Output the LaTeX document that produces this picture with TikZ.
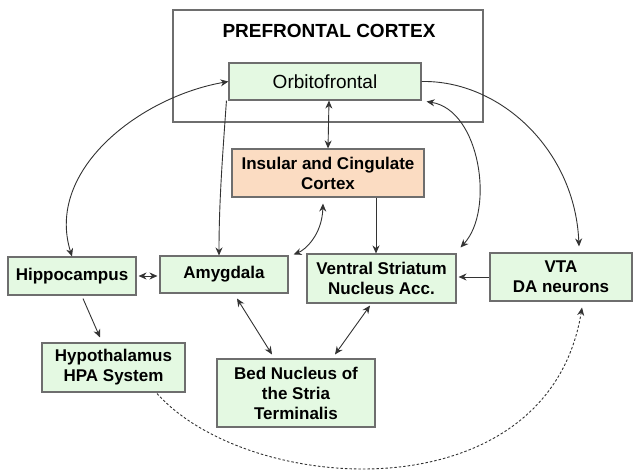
\documentclass[tikz,border=0pt]{standalone}
\usepackage{fontspec}
\setmainfont{Liberation Sans}
\usetikzlibrary{arrows.meta}
\definecolor{boxgreen}{HTML}{E4F9E2}
\definecolor{boxpeach}{HTML}{FBDCC2}
\definecolor{edgegray}{HTML}{6E6E6E}
\definecolor{linegray}{HTML}{333333}
\begin{document}
\begin{tikzpicture}[x=1pt,y=-1pt,
  region/.style={draw=edgegray, line width=1.1pt, fill=boxgreen, inner sep=0pt, align=center,
    font=\fontsize{17}{20}\selectfont\bfseries},
  conn/.style={draw=linegray, line width=0.9pt, -{Stealth[length=8pt,width=7pt]}},
  bconn/.style={draw=linegray, line width=0.9pt, {Stealth[length=8pt,width=7pt]}-{Stealth[length=8pt,width=7pt]}},
  dconn/.style={draw=linegray, line width=0.9pt, dash pattern=on 2.5pt off 2pt, -{Stealth[length=8pt,width=7pt]}},
]
\useasboundingbox (0,0) rectangle (639,473);
\fill[white] (0,0) rectangle (639,473);

% prefrontal cortex frame
\node[draw=edgegray, line width=1.2pt, minimum width=310pt, minimum height=112pt, inner sep=0pt] (pfc) at (328,66) {};
\node[font=\fontsize{19}{21}\selectfont\bfseries, inner sep=0pt] (pfctitle) at (329,31) {PREFRONTAL CORTEX};

% boxes
\node[region, font=\fontsize{19}{21}\selectfont, minimum width=192pt, minimum height=37pt] (orb) at (325,81.5) {Orbitofrontal};
\node[region, fill=boxpeach, minimum width=192pt, minimum height=48pt] (ins) at (328,173) {Insular and Cingulate\\Cortex};
\node[region, minimum width=128pt, minimum height=38pt] (hip) at (72,276) {Hippocampus};
\node[region, minimum width=128pt, minimum height=37pt] (amy) at (224,274.5) {Amygdala};
\node[region, minimum width=149pt, minimum height=49pt] (vs) at (381.5,278.5) {Ventral Striatum\\Nucleus Acc.};
\node[region, minimum width=142pt, minimum height=48pt] (vta) at (561,277) {VTA\\DA neurons};
\node[region, minimum width=143pt, minimum height=49pt] (hyp) at (113.5,367.5) {Hypothalamus\\HPA System};
\node[region, minimum width=158pt, minimum height=68pt] (bed) at (296,393) {Bed Nucleus of\\the Stria\\Terminalis};

% connectors
\draw[bconn] (orb.west) .. controls (140,97) and (45,170) .. (hip.north);
\draw[conn] ([shift={(-2,0)}]orb.south west) .. controls (223,150) and (219,200) .. ([shift={(-5,0)}]amy.north);
\draw[bconn] ([shift={(4,0)}]orb.south) -- (ins.north);
\draw[bconn] ([shift={(-5,6)}]ins.south) .. controls (322,235) and (305,250) .. ([shift={(5,-1)}]amy.north east);
\draw[conn] ([shift={(48,0)}]ins.south) -- ([shift={(-5.5,0)}]vs.north);
\draw[bconn] ([shift={(5,1)}]orb.south east) .. controls (480,110) and (495,210) .. ([shift={(4,-6)}]vs.north east);
\draw[conn] (orb.east) .. controls (500,80) and (575,150) .. ([shift={(18,-6)}]vta.north);
\draw[bconn] ([shift={(2,0)}]hip.east) -- ([shift={(-2,1.5)}]amy.west);
\draw[conn] ([shift={(11,3)}]hip.south) -- ([shift={(-13.5,-5)}]hyp.north);
\draw[bconn] ([shift={(13,5)}]amy.south) -- ([shift={(-24,-4)}]bed.north);
\draw[bconn] ([shift={(-11.5,2)}]vs.south) -- ([shift={(39,-4)}]bed.north);
\draw[conn] (vta.west) -- ([shift={(2,-1.5)}]vs.east);
\draw[dconn] ([shift={(43.5,1)}]hyp.south) .. controls (250,497) and (548,515) .. ([shift={(21,6)}]vta.south);
\end{tikzpicture}
\end{document}
